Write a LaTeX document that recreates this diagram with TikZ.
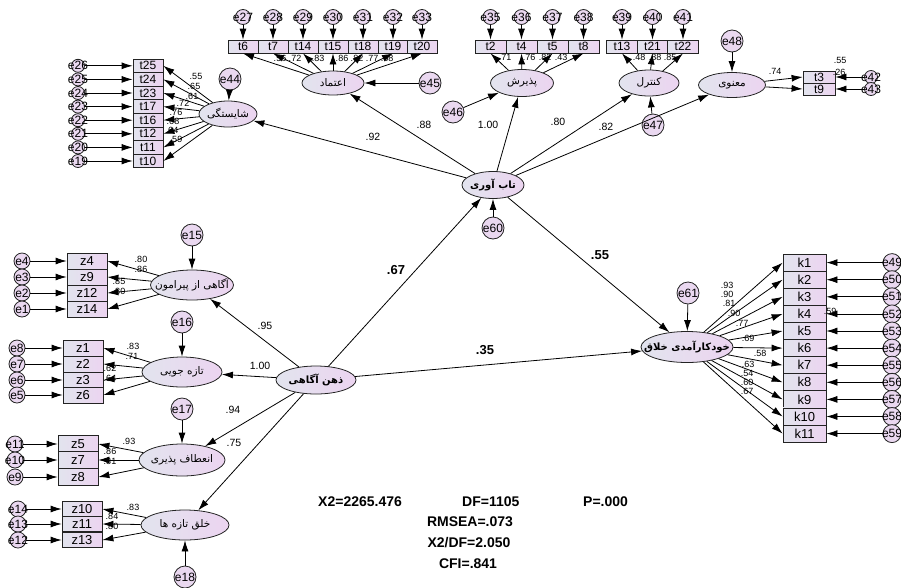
\documentclass[tikz,border=0pt]{standalone}
\usepackage{fontspec}
\setmainfont{Liberation Sans}
\newfontfamily\fafont[Script=Arabic]{DejaVu Sans}
\TeXXeTstate=1
\usepackage{tikz}
\usetikzlibrary{arrows.meta,shapes.geometric,positioning}

\definecolor{boxl}{RGB}{226,228,238}
\definecolor{boxr}{RGB}{236,212,240}
\definecolor{errfill}{RGB}{234,216,240}
\definecolor{edge}{RGB}{35,35,35}

\newcommand{\eclap}[1]{\makebox[0pt]{#1}}
\newcommand{\fa}[1]{\eclap{\fafont\beginR #1\endR}}

\tikzset{
  obs/.style={draw=edge,line width=0.8pt,left color=boxl,right color=boxr,
    inner sep=0pt,font=\fontsize{12}{12}\selectfont},
  lat/.style={ellipse,draw=edge,line width=0.8pt,left color=boxl,right color=boxr,
    inner sep=0pt,font=\fontsize{10.5}{10.5}\selectfont},
  mainlat/.style={lat,font=\bfseries\fontsize{10}{10}\selectfont},
  err/.style={circle,draw=edge,line width=0.8pt,fill=errfill,inner sep=0pt,
    minimum size=14pt,font=\fontsize{12}{12}\selectfont},
  bigerr/.style={err,minimum size=22pt},
  arr/.style={-{Latex[length=11pt,width=7pt]},line width=0.8pt},
  coef/.style={inner sep=0pt,font=\fontsize{9}{9}\selectfont},
  midcoef/.style={inner sep=0pt,font=\fontsize{10.5}{10.5}\selectfont},
  bigcoef/.style={inner sep=0pt,font=\bfseries\fontsize{13}{13}\selectfont},
  fitstat/.style={inner sep=0pt,font=\bfseries\fontsize{14}{14}\selectfont}
}

\begin{document}
\begin{tikzpicture}[x=1pt,y=-1pt]
  \useasboundingbox (0,0) rectangle (901,587);
  \clip (0,0) rectangle (901,587);

  % latent variables
  \node[lat,minimum width=58pt,minimum height=26pt] (sha) at (228,114) {\fa{شایستگی}};
  \node[lat,minimum width=62pt,minimum height=24pt] (etm) at (333,83) {\fa{اعتماد}};
  \node[lat,minimum width=63pt,minimum height=27pt] (paz) at (522,83) {\fa{پذیرش}};
  \node[lat,minimum width=60pt,minimum height=26pt] (ctl) at (649,83) {\fa{کنترل}};
  \node[lat,minimum width=67pt,minimum height=25pt] (man) at (732,85) {\fa{معنوی}};
  \node[mainlat,minimum width=62pt,minimum height=27pt] (tab) at (493,185) {\fa{تاب آوری}};
  \node[mainlat,minimum width=80pt,minimum height=28pt] (zeh) at (316,380) {\fa{ذهن آگاهی}};
  \node[mainlat,minimum width=92pt,minimum height=31pt] (khd) at (687,347) {\fa{خودکارآمدی خلاق}};
  \node[lat,minimum width=83pt,minimum height=30pt] (agp) at (192,285) {\fa{آگاهی از پیرامون}};
  \node[lat,minimum width=80pt,minimum height=30pt] (tzj) at (182,372) {\fa{تازه جویی}};
  \node[lat,minimum width=86pt,minimum height=32pt] (ent) at (182,460) {\fa{انعطاف پذیری}};
  \node[lat,minimum width=88pt,minimum height=30pt] (khl) at (185,525) {\fa{خلق تازه ها}};

  % disturbances
  \foreach \er/\x/\y/\tg in {e44/230/79/sha, e45/430/83/etm, e46/453/112/paz, e47/653/125/ctl,
      e48/732/41/man, e60/493/228/tab, e61/688/293/khd, e15/192/235/agp, e16/182/322/tzj,
      e17/182/409/ent, e18/185/577/khl}{
    \node[bigerr] (\er) at (\x,\y) {\eclap{\er}};
    \draw[arr] (\er) -- (\tg);
  }

  % shayestegi
  \foreach \bx/\er/\y/\v/\lx/\ly in {t25/e26/65.8/.55/196/76, t24/e25/79.4/.65/194/86,
      t23/e24/93/.61/192/96, t17/e23/106.6/.72/183/103, t16/e22/120.2/.76/176/112,
      t12/e21/133.8/.68/173/121, t11/e20/147.4/.64/172/130, t10/e19/161/.59/176/139}{
    \node[obs,minimum width=30pt,minimum height=13.6pt] (\bx) at (148,\y) {\bx};
    \node[err,minimum size=13pt] (\er) at (78,\y) {\eclap{\er}};
    \draw[arr] (\er) -- (\bx);
    \draw[arr] (sha) -- (\bx.east);
    \node[coef] (c-\bx) at (\lx,\ly) {\v};
  }

  % etemad
  \foreach \bx/\er/\x/\v/\lx in {t6/e27/243/.56/280, t7/e28/273/.72/295, t14/e29/303/.83/318,
      t15/e30/333/.86/342, t18/e31/363/.82/357, t19/e32/393/.77/372, t20/e33/422/.68/387}{
    \node[obs,minimum width=30pt,minimum height=13pt] (\bx) at (\x,46.5) {\bx};
    \node[err,minimum size=15pt] (\er) at (\x,17) {\eclap{\er}};
    \draw[arr] (\er) -- (\bx);
    \draw[arr] (etm) -- (\bx.south);
    \node[coef] (c-\bx) at (\lx,58) {\v};
  }

  % paziresh
  \foreach \bx/\er/\x/\v/\lx in {t2/e35/490.5/.71/505, t4/e36/521.5/.76/529,
      t5/e37/552.5/.82/545, t8/e38/583.5/.43/561}{
    \node[obs,minimum width=31pt,minimum height=13pt] (\bx) at (\x,46.5) {\bx};
    \node[err,minimum size=15pt] (\er) at (\x,17) {\eclap{\er}};
    \draw[arr] (\er) -- (\bx);
    \draw[arr] (paz) -- (\bx.south);
    \node[coef] (c-\bx) at (\lx,57) {\v};
  }

  % control
  \foreach \bx/\er/\x/\v/\lx in {t13/e39/622/.48/639, t21/e40/652.5/.88/655, t22/e41/683/.85/670}{
    \node[obs,minimum width=30.5pt,minimum height=13pt] (\bx) at (\x,46.5) {\bx};
    \node[err,minimum size=15pt] (\er) at (\x,17) {\eclap{\er}};
    \draw[arr] (\er) -- (\bx);
    \draw[arr] (ctl) -- (\bx.south);
    \node[coef] (c-\bx) at (\lx,57) {\v};
  }

  % manavi
  \foreach \bx/\er/\y in {t3/e42/77, t9/e43/89}{
    \node[obs,minimum width=32pt,minimum height=12pt] (\bx) at (819,\y) {\bx};
    \node[err,minimum size=13pt] (\er) at (871,\y) {\eclap{\er}};
    \draw[arr] (\er) -- (\bx);
    \draw[arr] (man) -- (\bx.west);
  }
  \node[coef] (c-t3) at (775,71) {.74};
  \node[coef] (r-t3) at (840,60) {.55};
  \node[coef] (r-t9) at (839,72) {.26};

  % structural paths
  \draw[arr] (tab) -- (sha);
  \node[midcoef] (c-sha) at (373,137) {.92};
  \draw[arr] (tab) -- (etm);
  \node[midcoef] (c-etm) at (424,125) {.88};
  \draw[arr] (tab) -- (paz);
  \node[midcoef] (c-paz) at (488,125) {1.00};
  \draw[arr] (tab) -- (ctl);
  \node[midcoef] (c-ctl) at (558,122) {.80};
  \draw[arr] (tab) -- (man);
  \node[midcoef] (c-man) at (606,127) {.82};
  \draw[arr] (zeh) -- (tab);
  \node[bigcoef] (c-tab) at (396,270) {.67};
  \draw[arr] (zeh) -- (khd);
  \node[bigcoef] (c-zk) at (485,350) {.35};
  \draw[arr] (tab) -- (khd);
  \node[bigcoef] (c-tk) at (600,255) {.55};
  \draw[arr] (zeh) -- (agp);
  \node[midcoef] (c-agp) at (265,326) {.95};
  \draw[arr] (zeh) -- (tzj);
  \node[midcoef] (c-tzj) at (260,366) {1.00};
  \draw[arr] (zeh) -- (ent);
  \node[midcoef] (c-ent) at (233,410) {.94};
  \draw[arr] (zeh) -- (khl);
  \node[midcoef] (c-khl) at (234,443) {.75};

  % agahi az piramun
  \foreach \bx/\er/\y/\v/\lx/\ly in {z4/e4/261/.80/141/259, z9/e3/277/.86/141/269,
      z12/e2/293/.85/119/281, z14/e1/309/.80/119/291}{
    \node[obs,minimum width=40pt,minimum height=16pt,font=\fontsize{13}{13}\selectfont] (\bx) at (87,\y) {\bx};
    \node[err,minimum size=16pt] (\er) at (22,\y) {\eclap{\er}};
    \draw[arr] (\er) -- (\bx);
    \draw[arr] (agp) -- (\bx.east);
    \node[coef] (c-\bx) at (\lx,\ly) {\v};
  }

  % taze juyi
  \foreach \bx/\er/\y/\v/\lx/\ly in {z1/e8/348/.83/133/346, z2/e7/364/.71/132/356,
      z3/e6/380/.62/110/368, z6/e5/395/.64/110/378}{
    \node[obs,minimum width=40pt,minimum height=15.8pt,font=\fontsize{13}{13}\selectfont] (\bx) at (83,\y) {\bx};
    \node[err,minimum size=16pt] (\er) at (17,\y) {\eclap{\er}};
    \draw[arr] (\er) -- (\bx);
    \draw[arr] (tzj) -- (\bx.east);
    \node[coef] (c-\bx) at (\lx,\ly) {\v};
  }

  % enetaf paziri
  \foreach \bx/\er/\y/\v/\lx/\ly in {z5/e11/444/.93/129/441, z7/e10/460/.86/110/451,
      z8/e9/477/.81/110/461}{
    \node[obs,minimum width=40pt,minimum height=16.3pt,font=\fontsize{13}{13}\selectfont] (\bx) at (78,\y) {\bx};
    \node[err,minimum size=16pt] (\er) at (15,\y) {\eclap{\er}};
    \draw[arr] (\er) -- (\bx);
    \draw[arr] (ent) -- (\bx.east);
    \node[coef] (c-\bx) at (\lx,\ly) {\v};
  }

  % khalgh taze ha
  \foreach \bx/\er/\y/\v/\lx/\ly in {z10/e14/509/.83/133/507, z11/e13/524/.84/112/516,
      z13/e12/540/.80/112/526}{
    \node[obs,minimum width=40pt,minimum height=15.7pt,font=\fontsize{13}{13}\selectfont] (\bx) at (82,\y) {\bx};
    \node[err,minimum size=16pt] (\er) at (18,\y) {\eclap{\er}};
    \draw[arr] (\er) -- (\bx);
    \draw[arr] (khl) -- (\bx.east);
    \node[coef] (c-\bx) at (\lx,\ly) {\v};
  }

  % khodkaramadi
  \foreach \bx/\er/\y/\v/\lx/\ly in {k1/e49/262.6/.93/727/285, k2/e50/279.7/.90/727/294,
      k3/e51/296.8/.81/729/303, k4/e52/313.9/.90/734/313, k5/e53/331/.77/742/323,
      k6/e54/348.1/.69/748/338, k7/e55/365.2/.58/760/353, k8/e56/382.3/.63/748/364,
      k9/e57/399.4/.54/747/373, k10/e58/416.5/.60/747/382, k11/e59/433.6/.67/747/391}{
    \node[obs,minimum width=43pt,minimum height=17.1pt,font=\fontsize{13}{13}\selectfont] (\bx) at (804.5,\y) {\bx};
    \node[err,minimum size=18pt] (\er) at (892,\y) {\eclap{\er}};
    \draw[arr] (\er) -- (\bx);
    \draw[arr] (khd) -- (\bx.west);
    \node[coef] (c-\bx) at (\lx,\ly) {\v};
  }
  \node[coef] (r-k4) at (830,311) {.59};

  % fit indices
  \node[fitstat,anchor=west] (chi) at (318,502) {X2=2265.476};
  \node[fitstat,anchor=west] (df) at (462,502) {DF=1105};
  \node[fitstat,anchor=west] (pv) at (583,502) {P=.000};
  \node[fitstat] (rmsea) at (470,522) {RMSEA=.073};
  \node[fitstat] (cmin) at (469,543) {X2/DF=2.050};
  \node[fitstat] (cfi) at (468,564) {CFI=.841};
\end{tikzpicture}
\end{document}
